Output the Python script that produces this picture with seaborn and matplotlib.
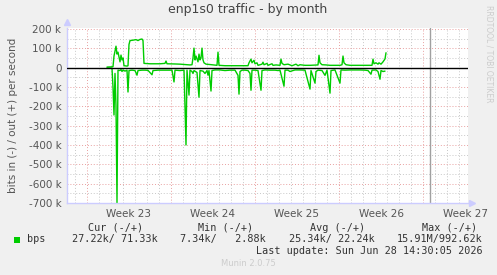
import numpy as np
import pandas as pd
import matplotlib
matplotlib.use("Agg")
import matplotlib.pyplot as plt
import seaborn as sns

# ---- data (x in days since Monday of Week 23, values in kbit/s) ----
out_days_px = [107, 111, 113, 114, 116, 117, 118, 119, 120, 121, 122, 123, 124, 127, 128, 129, 130, 133,
               136, 138, 140, 142, 143, 144, 150, 160, 165, 166, 167, 175, 180, 185, 190, 192, 193, 194,
               195, 196, 197, 198, 199, 200, 201, 202, 203, 204, 206, 210, 217, 218, 219, 225, 240, 248,
               249, 251, 252, 254, 255, 257, 258, 262, 263, 264, 267, 268, 272, 273, 276, 280, 281, 282,
               284, 288, 292, 296, 298, 300, 305, 310, 318, 319, 320, 322, 326, 330, 340, 342, 343, 344,
               346, 350, 360, 372, 373, 374, 376, 378, 379, 381, 383, 385, 386]
out_values = [3, 4, 5, 60, 111, 70, 80, 55, 30, 65, 40, 50, 10, 8, 10, 120, 140, 142,
              145, 140, 146, 148, 140, 22, 20, 20, 22, 34, 20, 19, 18, 16, 14, 15, 50, 101,
              40, 60, 45, 30, 70, 40, 50, 101, 40, 25, 18, 16, 12, 80, 12, 10, 10, 10,
              25, 44, 25, 38, 20, 25, 12, 18, 28, 15, 22, 12, 20, 12, 14, 12, 44, 22,
              15, 18, 10, 18, 10, 15, 12, 12, 14, 64, 25, 15, 14, 12, 12, 15, 60, 25,
              15, 12, 12, 12, 44, 20, 25, 18, 25, 18, 30, 45, 77]

in_days_px = [107, 112, 113, 114, 115, 116, 117, 118, 120, 121, 122, 123, 125, 127, 128, 129, 132, 135,
              137, 138, 142, 145, 148, 152, 153, 158, 165, 172, 174, 175, 180, 184, 185, 186, 187, 189,
              190, 192, 193, 194, 197, 199, 200, 203, 205, 207, 208, 209, 211, 212, 215, 220, 225, 230,
              235, 238, 239, 240, 242, 245, 248, 250, 251, 252, 255, 258, 261, 262, 265, 270, 275, 278,
              280, 284, 285, 288, 290, 293, 295, 300, 305, 310, 311, 315, 316, 318, 322, 325, 327, 330,
              331, 335, 340, 341, 345, 350, 355, 360, 365, 368, 371, 372, 376, 378, 380, 381, 383, 385]
in_values = [-2, -3, -100, -245, -30, -200, -697, -13, -15, -10, -20, -12, -18, -13, -126, -15, -13, -15,
             -39, -15, -13, -13, -14, -37, -15, -13, -13, -13, -74, -13, -15, -13, -200, -400, -13, -142,
             -13, -20, -30, -15, -25, -153, -15, -18, -30, -15, -39, -15, -121, -15, -12, -12, -15, -13,
             -13, -40, -137, -20, -13, -13, -15, -30, -117, -13, -13, -15, -117, -15, -12, -13, -13, -15,
             -13, -96, -13, -13, -20, -15, -12, -12, -13, -111, -15, -80, -20, -13, -15, -40, -13, -132,
             -15, -12, -80, -12, -13, -12, -12, -12, -13, -15, -34, -13, -12, -20, -60, -15, -20, -18]

PX0, PX_PER_DAY = 87.0, 12.0
out_days = [(p - PX0) / PX_PER_DAY for p in out_days_px]
in_days = [(p - PX0) / PX_PER_DAY for p in in_days_px]

week_starts = [0, 7, 14, 21, 28]
week_label_pos = [3.5, 10.5, 17.5, 24.5, 31.5]
week_labels = ["Week 23", "Week 24", "Week 25", "Week 26", "Week 27"]
ytick_vals = [200, 100, 0, -100, -200, -300, -400, -500, -600, -700]
ytick_labels = ["200 k", "100 k", "0", "-100 k", "-200 k", "-300 k", "-400 k", "-500 k", "-600 k", "-700 k"]
now_marker_day = 28.58

df_out = pd.DataFrame({"day": out_days, "value": out_values})
df_in = pd.DataFrame({"day": in_days, "value": in_values})

sns.set_style("white")
plt.rcParams['font.family'] = ['DejaVu Sans']

W, H = 497, 275
fig = plt.figure(figsize=(W / 100, H / 100), dpi=100, facecolor="#F0F0F0")
left, right, top, bottom = 67, 468, 28, 203
ax = fig.add_axes([left / W, 1 - bottom / H, (right - left) / W, (bottom - top) / H])
ax.set_facecolor("white")

xmin = (left - PX0) / PX_PER_DAY
xmax = (right - PX0) / PX_PER_DAY
ax.set_xlim(xmin, xmax)
ax.set_ylim(-700, 205)

# grid
gray_grid = dict(color="#c8c8c8", linewidth=0.7, linestyle=(0, (1, 2)))
red_grid = dict(color="#e8a0a0", linewidth=0.7, linestyle=(0, (1, 2)))
for d in np.arange(np.ceil(xmin), xmax, 1):
    if d not in week_starts:
        ax.axvline(d, zorder=0, **gray_grid)
for d in week_starts:
    ax.axvline(d, zorder=0.5, **red_grid)
for v in np.arange(-650, 205, 100):
    ax.axhline(v, zorder=0, **gray_grid)
for v in ytick_vals:
    if v != 0:
        ax.axhline(v, zorder=0.5, **red_grid)

ax.axvline(now_marker_day, color="#a0a0a0", linewidth=1.0, zorder=1)

sns.lineplot(data=df_out, x="day", y="value", ax=ax, color="#00CC00", linewidth=1.0, zorder=3)
sns.lineplot(data=df_in, x="day", y="value", ax=ax, color="#00CC00", linewidth=1.0, zorder=3)
ax.axhline(0, color="black", linewidth=1.0, zorder=4)

ax.set_xticks(week_label_pos)
ax.set_xticklabels(week_labels)
ax.set_yticks(ytick_vals)
ax.set_yticklabels(ytick_labels)
ax.tick_params(axis="both", length=0, labelsize=7.5, colors="#555555", pad=4)
ax.set_xlabel("")
ax.set_ylabel("bits in (-) / out (+) per second", fontsize=7.5, color="#555555", labelpad=8)

for s in ["top", "right"]:
    ax.spines[s].set_visible(False)
for s in ["left", "bottom"]:
    ax.spines[s].set_color("#ccccff")
    ax.spines[s].set_linewidth(1.0)
# axis arrows
ax.plot([0], [1.035], marker="^", markersize=4, color="#ccccff", transform=ax.transAxes, clip_on=False)
ax.plot([1.01], [0], marker=">", markersize=4, color="#ccccff", transform=ax.transAxes, clip_on=False)

fig.text(248 / W, 1 - 9 / H, "enp1s0 traffic - by month", ha="center", va="center", fontsize=9, color="#444444")
fig.text(489 / W, 1 - 54 / H, "RRDTOOL / TOBI OETIKER", rotation=270, ha="center", va="center",
         fontsize=5.5, color="#cccccc")

mono = dict(family="DejaVu Sans Mono", fontsize=7.3, color="#333333", va="center")
y1, y2, y3 = 1 - 228 / H, 1 - 239 / H, 1 - 251 / H
fig.text(116 / W, y1, "Cur (-/+)", ha="center", **mono)
fig.text(226 / W, y1, "Min (-/+)", ha="center", **mono)
fig.text(338 / W, y1, "Avg (-/+)", ha="center", **mono)
fig.text(450 / W, y1, "Max (-/+)", ha="center", **mono)
fig.patches.append(plt.Rectangle((14 / W, 1 - 242.5 / H), 6 / W, 6 / H, transform=fig.transFigure,
                                 facecolor="#00CC00", edgecolor="none"))
fig.text(27 / W, y2, "bps", ha="left", **mono)
fig.text(158 / W, y2, "27.22k/ 71.33k", ha="right", **mono)
fig.text(266 / W, y2, "7.34k/   2.88k", ha="right", **mono)
fig.text(375 / W, y2, "25.34k/ 22.24k", ha="right", **mono)
fig.text(483 / W, y2, "15.91M/992.62k", ha="right", **mono)
fig.text(483 / W, y3, "Last update: Sun Jun 28 14:30:05 2026", ha="right", **mono)
fig.text(248 / W, 1 - 263 / H, "Munin 2.0.75", ha="center", va="center", fontsize=6, color="#cccccc")

fig.savefig("out.png", dpi=100, facecolor=fig.get_facecolor())
